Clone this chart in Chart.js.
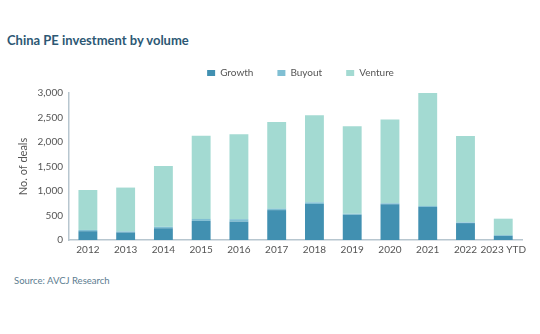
<!DOCTYPE html>
<html>
<head>
<meta charset="utf-8">
<script src="https://cdn.jsdelivr.net/npm/chart.js@4/dist/chart.umd.min.js"></script>
<style>
  body { margin: 0; background: #fff; width: 540px; height: 334px; position: relative; overflow: hidden; font-family: Lato, sans-serif; }
  #title { position: absolute; left: 7px; top: 32px; font-size: 13px; font-weight: bold; color: #2d5874; }
  #source { position: absolute; left: 14px; top: 275px; font-size: 9.5px; color: #5d7d90; }
  #wrap { position: absolute; left: 0; top: 49px; width: 530px; height: 211px; }
</style>
</head>
<body>
<div id="title">China PE investment by volume</div>
<div id="wrap"><canvas id="chart"></canvas></div>
<div id="source">Source: AVCJ Research</div>
<script>
var years = ['2012', '2013', '2014', '2015', '2016', '2017', '2018', '2019', '2020', '2021', '2022', '2023 YTD'];
var growth  = [180, 155, 240, 390, 375, 610, 735, 515, 730, 675, 345, 85];
var buyout  = [25, 20, 30, 40, 50, 30, 35, 20, 20, 20, 15, 15];
var venture = [815, 895, 1240, 1700, 1735, 1770, 1775, 1785, 1710, 2305, 1765, 335];

var yTicks = [0, 500, 1000, 1500, 2000, 2500, 3000];

var axisColor = '#b7c6cf';
var textColor = '#555';

// the wide label padding also inflates the legend box, so pull it back into place
var legendShift = {
    id: 'legendShift',
    afterLayout: function(chart) {
        var lg = chart.legend;
        lg.left += 27;
        lg.right += 27;
        lg.top -= 5;
        lg.bottom -= 5;
    }
};

new Chart(document.getElementById('chart').getContext('2d'), {
    type: 'bar',
    data: {
        labels: years,
        datasets: [
            { label: 'Growth', data: growth, backgroundColor: '#4190b1' },
            { label: 'Buyout', data: buyout, backgroundColor: '#80bfd3' },
            { label: 'Venture', data: venture, backgroundColor: '#a3dad2' }
        ]
    },
    plugins: [legendShift],
    options: {
        responsive: true,
        maintainAspectRatio: false,
        animation: false,
        barPercentage: 0.5,
        categoryPercentage: 1,
        layout: { padding: { left: 17, right: 0, top: 0, bottom: 0 } },
        plugins: {
            legend: {
                position: 'top',
                labels: {
                    boxWidth: 8,
                    boxHeight: 6,
                    padding: 24,
                    color: textColor,
                    font: { family: 'Lato', size: 10 }
                }
            },
            tooltip: { enabled: false }
        },
        scales: {
            x: {
                stacked: true,
                grid: { display: false, drawTicks: false },
                border: { color: axisColor, width: 1.5 },
                ticks: { color: textColor, font: { family: 'Lato', size: 10 }, maxRotation: 0, autoSkip: false, padding: 4 }
            },
            y: {
                stacked: true,
                min: 0,
                max: 3000,
                afterBuildTicks: function(axis) {
                    axis.ticks = yTicks.map(function(v) { return { value: v }; });
                },
                afterFit: function(axis) {
                    axis.width = 52;
                },
                grid: { display: false, drawTicks: false },
                border: { color: axisColor, width: 1.5 },
                ticks: {
                    color: textColor,
                    font: { family: 'Lato', size: 10 },
                    padding: 6,
                    callback: function(v) { return v.toLocaleString('en-US'); }
                },
                title: {
                    display: true,
                    text: 'No. of deals',
                    color: textColor,
                    font: { family: 'Lato', size: 11 },
                    padding: { top: 0, bottom: 6 }
                }
            }
        }
    }
});
</script>
</body>
</html>
